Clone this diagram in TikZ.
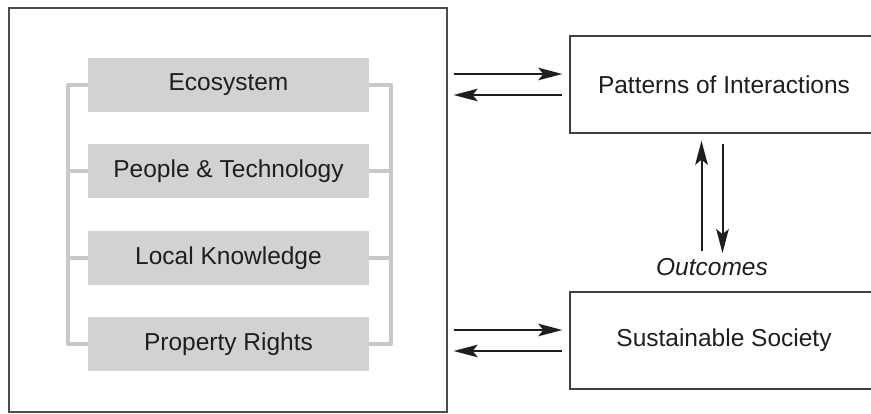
\documentclass[tikz,border=0pt]{standalone}
\usepackage{fontspec}
\setmainfont{Liberation Sans}
\usetikzlibrary{arrows.meta,positioning}
\definecolor{boxgray}{HTML}{D2D2D2}
\definecolor{railgray}{HTML}{C8C8C8}
\definecolor{ink}{HTML}{1E1E1E}

\begin{document}
\begin{tikzpicture}[x=1pt,y=-1pt,
  font=\fontsize{24.5}{28}\selectfont, text=ink,
  part/.style={fill=boxgray, minimum width=281pt, minimum height=54pt, inner sep=0pt},
  stage/.style={draw=ink!85, line width=1.4pt, minimum width=308pt, minimum height=97pt, inner sep=0pt},
  rail/.style={draw=railgray, line width=4pt, line join=round},
  flow/.style={draw=ink, line width=2pt, -{Stealth[length=24pt,width=12.5pt,inset=5pt]}}]
\useasboundingbox (0,0) rectangle (871,414);

% left frame with the four parts
\node[draw=ink!80, line width=1.3pt, minimum width=438pt, minimum height=404pt, inner sep=0pt] (frame) at (228,210) {};
\node[part] (eco) at (228.5,85) {Ecosystem};
\node[part, below=32pt of eco] (people) {People \& Technology};
\node[part, below=32pt of people] (local) {Local Knowledge};
\node[part, below=32pt of local] (rights) {Property Rights};

\draw[rail] (eco.west) -- ++(-20,0) |- (rights.west);
\draw[rail] (eco.east) -- ++(22,0) |- (rights.east);
\foreach \p in {people,local} {
  \draw[rail] (\p.west) -- ++(-20,0);
  \draw[rail] (\p.east) -- ++(22,0);
}

% right column
\node[stage] (patterns) at (724,84.5) {Patterns of Interactions};
\node[stage] (society) at (724,340.5) {Sustainable Society};
\node[inner sep=3pt] (outcomes) at (712,267) {\itshape Outcomes};

\foreach \s in {patterns,society} {
  \draw[flow, shorten <=6pt, shorten >=7pt] ([yshift=10.5pt]\s.west -| frame.east) -- ([yshift=10.5pt]\s.west);
  \draw[flow, shorten <=7pt, shorten >=6pt] ([yshift=-10.5pt]\s.west) -- ([yshift=-10.5pt]\s.west -| frame.east);
}

\draw[flow, shorten <=4pt, shorten >=7pt] ([xshift=-10.5pt]outcomes.north) -- ([xshift=-10.5pt]outcomes.north |- patterns.south);
\draw[flow, shorten <=10pt, shorten >=2pt] ([xshift=10.5pt]outcomes.north |- patterns.south) -- ([xshift=10.5pt]outcomes.north);
\end{tikzpicture}
\end{document}
